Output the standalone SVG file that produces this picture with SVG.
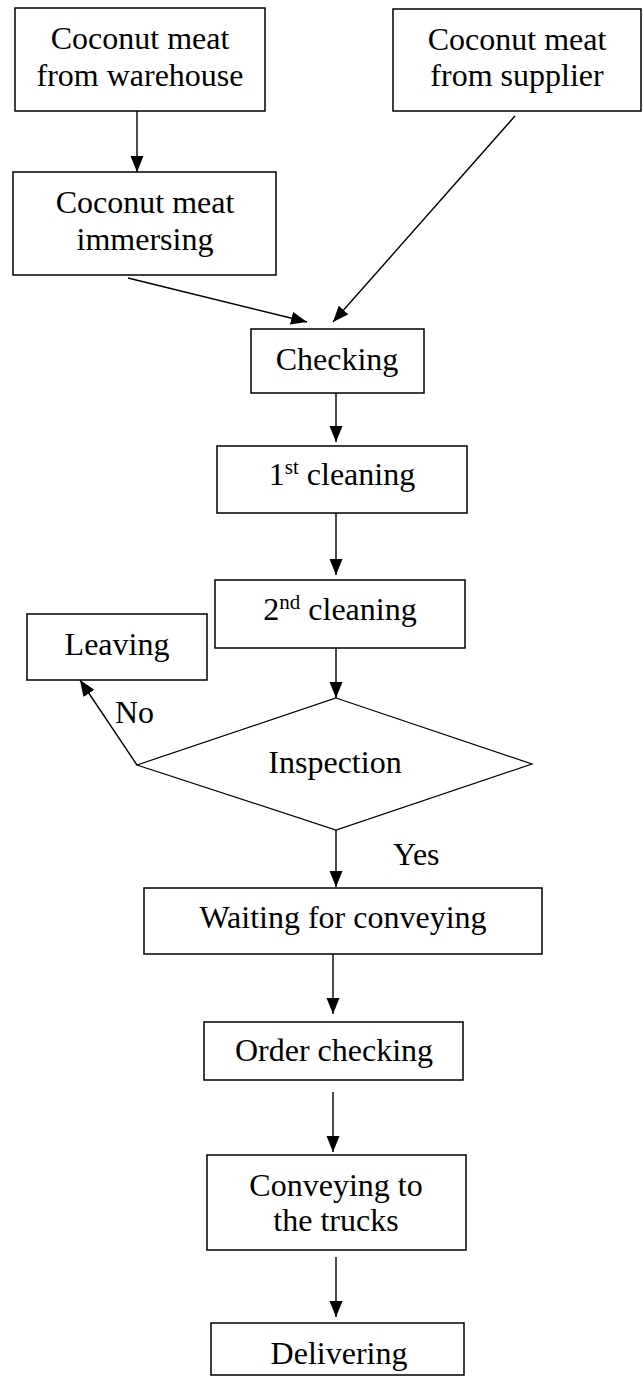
<svg xmlns="http://www.w3.org/2000/svg" width="644" height="1376" viewBox="0 0 644 1376">
<style>
.box{fill:#fff;stroke:#000;stroke-width:1.5}
.dia{fill:#fff;stroke:#000;stroke-width:1.2}
.t{font-family:"Liberation Serif","Times New Roman",serif;font-size:32px;fill:#000;text-anchor:middle}
.lbl{font-family:"Liberation Serif","Times New Roman",serif;font-size:32px;fill:#000}
.c{stroke:#000;stroke-width:1.4;fill:none;marker-end:url(#ah)}
</style>
<defs>
<marker id="ah" markerUnits="userSpaceOnUse" markerWidth="17" markerHeight="14" refX="16" refY="6.5" orient="auto">
<path d="M0,0 L16,6.5 L0,13 z" fill="#000"/>
</marker>
</defs>
<rect width="644" height="1376" fill="#fff"/>
<g id="connectors">
<line class="c" x1="137" y1="111" x2="137" y2="172"/>
<line class="c" x1="128" y1="278" x2="307" y2="322"/>
<line class="c" x1="515" y1="116" x2="333" y2="322"/>
<line class="c" x1="336" y1="393" x2="336" y2="442"/>
<line class="c" x1="336" y1="513" x2="336" y2="575"/>
<line class="c" x1="336" y1="648" x2="336" y2="698"/>
<line class="c" x1="137" y1="765" x2="80" y2="680"/>
<line class="c" x1="336" y1="830" x2="336" y2="887"/>
<line class="c" x1="333" y1="954" x2="333" y2="1014"/>
<line class="c" x1="333" y1="1092" x2="333" y2="1152"/>
<line class="c" x1="336" y1="1257" x2="336" y2="1317"/>
<text class="lbl" x="115" y="723">No</text>
<text class="lbl" x="393" y="865">Yes</text>
</g>
<g id="warehouse">
<rect class="box" x="15" y="8" width="250" height="103"/>
<text class="t" x="140" y="49">Coconut meat</text>
<text class="t" x="140" y="86">from warehouse</text>
</g>
<g id="supplier">
<rect class="box" x="393" y="9" width="248" height="102"/>
<text class="t" x="517" y="50">Coconut meat</text>
<text class="t" x="517" y="86">from supplier</text>
</g>
<g id="immersing">
<rect class="box" x="13" y="172" width="263" height="103"/>
<text class="t" x="145" y="213">Coconut meat</text>
<text class="t" x="145" y="250">immersing</text>
</g>
<g id="checking">
<rect class="box" x="251" y="329" width="173" height="64"/>
<text class="t" x="337" y="370">Checking</text>
</g>
<g id="cleaning1">
<rect class="box" x="217" y="446" width="250" height="67"/>
<text class="t" x="342" y="485">1<tspan font-size="21" dy="-11">st</tspan><tspan dy="11"> cleaning</tspan></text>
</g>
<g id="cleaning2">
<rect class="box" x="215" y="580" width="250" height="68"/>
<text class="t" x="340" y="620">2<tspan font-size="21" dy="-11">nd</tspan><tspan dy="11"> cleaning</tspan></text>
</g>
<g id="leaving">
<rect class="box" x="27" y="614" width="180" height="66"/>
<text class="t" x="117" y="655">Leaving</text>
</g>
<g id="inspection">
<polygon class="dia" points="336,698 532,764 336,830 137,765"/>
<text class="t" x="335" y="773">Inspection</text>
</g>
<g id="waiting">
<rect class="box" x="144" y="888" width="398" height="66"/>
<text class="t" x="343" y="928">Waiting for conveying</text>
</g>
<g id="order">
<rect class="box" x="204" y="1022" width="259" height="58"/>
<text class="t" x="334" y="1061">Order checking</text>
</g>
<g id="conveying">
<rect class="box" x="207" y="1155" width="259" height="95"/>
<text class="t" x="336" y="1196">Conveying to</text>
<text class="t" x="336" y="1231">the trucks</text>
</g>
<g id="delivering">
<rect class="box" x="211" y="1323" width="253" height="52"/>
<text class="t" x="339" y="1364">Delivering</text>
</g>
</svg>
